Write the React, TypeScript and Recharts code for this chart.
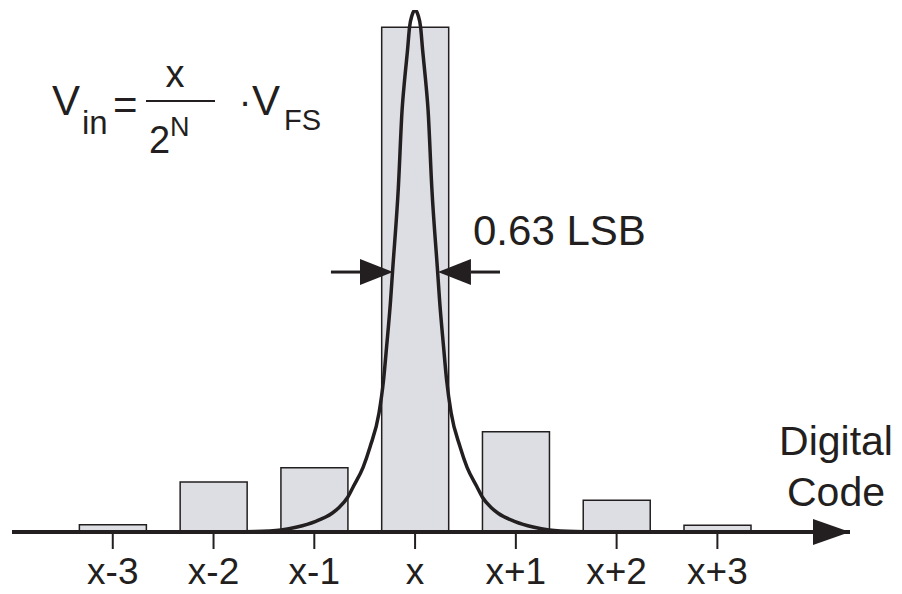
import {
    Bar,
    ComposedChart,
    Line,
    ReferenceDot,
    ReferenceLine,
    XAxis,
    YAxis,
} from "recharts";

// code offsets around the true code x, and their tick labels
const codeOffsets = [-3, -2, -1, 0, 1, 2, 3];
const codeLabels = ["x-3", "x-2", "x-1", "x", "x+1", "x+2", "x+3"];

// histogram of output codes (fraction of hits)
const hitShare = [0.014, 0.096, 0.123, 0.967, 0.192, 0.061, 0.013];

// noise density curve (x in LSB, y relative to peak)
const curveOffset = [
    -3.97, -1.985, -1.588, -1.33, -1.171, -0.992, -0.824, -0.754, -0.67, -0.61,
    -0.516, -0.447, -0.358, -0.313, -0.283, -0.243, -0.224, -0.166, -0.129,
    -0.104, -0.075, -0.055, -0.03, 0, 0.03, 0.055, 0.075, 0.104, 0.129, 0.166,
    0.224, 0.243, 0.283, 0.313, 0.358, 0.447, 0.516, 0.61, 0.67, 0.754, 0.824,
    0.992, 1.171, 1.33, 1.588, 1.985, 3.97,
];
const curveDensity = [
    0, 0, 0.001, 0.004, 0.0096, 0.02, 0.036, 0.047, 0.066, 0.088, 0.124, 0.163,
    0.228, 0.291, 0.354, 0.444, 0.498, 0.66, 0.808, 0.866, 0.923, 0.967, 0.99,
    1, 0.99, 0.967, 0.923, 0.866, 0.808, 0.66, 0.498, 0.444, 0.354, 0.291,
    0.228, 0.163, 0.124, 0.088, 0.066, 0.047, 0.036, 0.02, 0.0096, 0.004, 0.001,
    0, 0,
];

// width marker (0.63 LSB) arrows
const markLevel = 0.498;
const markTails = [-0.835, 0.843];
const markTips = [-0.219, 0.227];

const axisMin = -4;
const axisMax = 4.316;

const INK = "#231f20";
const FONT = "'Liberation Sans', Arial, Helvetica, sans-serif";

const barData = codeOffsets.map((u, i) => ({ u, h: hitShare[i] }));
const curveData = curveOffset.map((u, i) => ({ u, v: curveDensity[i] }));

function ArrowShape(props: any) {
    const { x1, y1, x2, y2 } = props;
    const dir = x2 > x1 ? 1 : -1;
    const headLen = 33;
    const half = 13;
    return (
        <g>
            <line
                x1={x1}
                y1={y1}
                x2={x2 - dir * headLen}
                y2={y2}
                stroke={INK}
                strokeWidth={3}
            />
            <polygon
                points={`${x2},${y2} ${x2 - dir * headLen},${y2 - half} ${x2 - dir * headLen},${y2 + half}`}
                fill={INK}
            />
        </g>
    );
}

function AxisHead(props: any) {
    const { cx, cy } = props;
    return (
        <polygon
            points={`${cx},${cy} ${cx - 37},${cy - 13} ${cx - 37},${cy + 13}`}
            fill={INK}
        />
    );
}

export default function App() {
    return (
        <div
            style={{
                position: "absolute",
                left: 0,
                top: 0,
                width: 902,
                height: 594,
                background: "#fff",
            }}
        >
            <ComposedChart
                width={902}
                height={594}
                data={barData}
                margin={{ top: 10, right: 52, left: 12, bottom: 0 }}
            >
                <XAxis
                    xAxisId="code"
                    type="number"
                    dataKey="u"
                    domain={[axisMin, axisMax]}
                    allowDataOverflow
                    ticks={codeOffsets}
                    interval={0}
                    tickFormatter={(v) => codeLabels[codeOffsets.indexOf(v)]}
                    height={62}
                    tickSize={17}
                    tickMargin={9}
                    axisLine={{ stroke: INK, strokeWidth: 4 }}
                    tickLine={{ stroke: INK, strokeWidth: 2 }}
                    tick={{ fontSize: 37, fill: INK, fontFamily: FONT }}
                />
                <XAxis
                    xAxisId="bins"
                    type="number"
                    dataKey="u"
                    domain={[axisMin, axisMax]}
                    allowDataOverflow
                    ticks={codeOffsets}
                    height={0}
                    hide
                />
                <YAxis hide domain={[0, 1]} allowDataOverflow />

                <Bar
                    xAxisId="bins"
                    dataKey="h"
                    barSize={67}
                    fill="#dcdee3"
                    stroke={INK}
                    strokeWidth={1.5}
                    isAnimationActive={false}
                />

                <Line
                    xAxisId="code"
                    data={curveData}
                    dataKey="v"
                    type="monotone"
                    stroke={INK}
                    strokeWidth={3.5}
                    dot={false}
                    activeDot={false}
                    isAnimationActive={false}
                />

                {markTails.map((tail, i) => (
                    <ReferenceLine
                        key={i}
                        xAxisId="code"
                        segment={[
                            { x: tail, y: markLevel },
                            { x: markTips[i], y: markLevel },
                        ]}
                        ifOverflow="visible"
                        shape={ArrowShape}
                    />
                ))}

                <ReferenceDot
                    xAxisId="code"
                    x={axisMax}
                    y={0}
                    ifOverflow="visible"
                    shape={AxisHead}
                />
            </ComposedChart>

            <svg
                width={902}
                height={594}
                style={{ position: "absolute", left: 0, top: 0, pointerEvents: "none" }}
                fontFamily={FONT}
                fill={INK}
            >
                {/* V_in = x / 2^N · V_FS */}
                <text x={52} y={115} fontSize={42}>V</text>
                <text x={82} y={134} fontSize={33}>in</text>
                <text x={113} y={119} fontSize={42}>=</text>
                <text x={175} y={87} fontSize={38} textAnchor="middle">x</text>
                <line x1={146} y1={101} x2={215} y2={101} stroke={INK} strokeWidth={2} />
                <text x={149} y={153} fontSize={38}>2</text>
                <text x={170} y={136} fontSize={27}>N</text>
                <text x={245} y={115} fontSize={38} textAnchor="middle">·</text>
                <text x={252} y={115} fontSize={42}>V</text>
                <text x={284} y={130} fontSize={29}>FS</text>

                <text x={473} y={245} fontSize={42}>0.63 LSB</text>

                <text x={836} y={455} fontSize={41} textAnchor="middle">Digital</text>
                <text x={836} y={506} fontSize={41} textAnchor="middle">Code</text>
            </svg>
        </div>
    );
}
